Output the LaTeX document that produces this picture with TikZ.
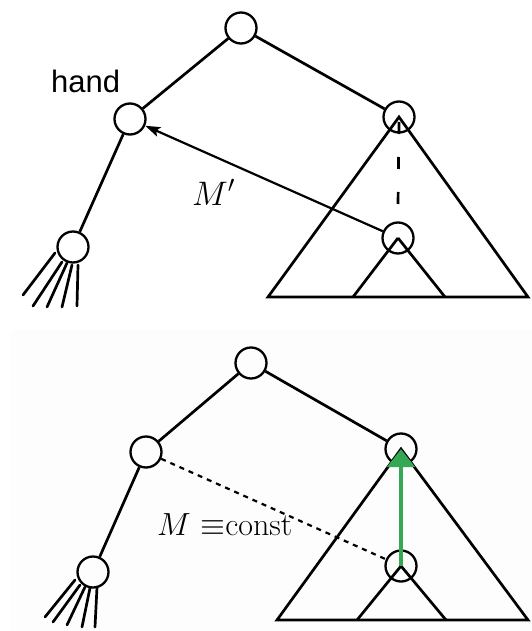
\RequirePackage{fix-cm}
\documentclass[tikz,border=0pt]{standalone}
\usepackage{fontspec}
\newfontfamily\handfont{Liberation Sans}
\usetikzlibrary{arrows.meta,calc}
\definecolor{arrowgreen}{RGB}{52,168,83}
\definecolor{panelbg}{RGB}{253,253,253}
\tikzset{
  vtx/.style={circle,draw,line width=2.3pt,minimum size=31pt,inner sep=0pt},
  edge/.style={line width=2.7pt},
  tri/.style={line width=2.7pt,line join=miter},
  fan/.style={line width=2.7pt,line cap=round},
  movearrow/.style={line width=2.2pt,-{Stealth[length=15pt,width=10pt,inset=3pt]}},
  greenarrow/.style={draw=arrowgreen,line width=4.5pt,-{Triangle[length=18pt,width=27pt]},arrowgreen},
  dotline/.style={line width=2.2pt,dash pattern=on 5pt off 5pt},
  txt/.style={inner sep=0pt,anchor=base west}
}
\begin{document}
\begin{tikzpicture}[x=1pt,y=-1pt]
\useasboundingbox (0,0) rectangle (532,631);
\fill[panelbg] (11,330) rectangle (532,631);

% ---------- top panel ----------
\node[vtx] (t0) at (241,28) {};
\node[vtx] (thand) at (130,119) {};
\node[vtx] (tr) at (399,117) {};
\node[vtx] (tbl) at (73,247) {};
\node[vtx] (tlr) at (398,238) {};
\coordinate (tA) at (268,297);
\coordinate (tB) at (528,297);
\coordinate (tC) at (353,297);
\coordinate (tD) at (445,297);

\draw[edge] (t0) -- (thand);
\draw[edge] (t0) -- (tr);
\draw[edge] (thand) -- (tbl);
\draw[tri] (tr.center) -- (tA) -- (tB) -- cycle;
\draw[tri] (tlr.center) -- (tC);
\draw[tri] (tlr.center) -- (tD);
\draw[line width=2.7pt,dash pattern=on 12pt off 23pt] ($(tr.center)+(0,5)$) -- ($(tlr.center)+(0,-33)$);
\foreach \sx/\sy/\ex/\ey in {-18/6/-50/48, -11/15/-40/59, -6/16/-26/60, -1/18/-11/60, 5/18/4/59}
  \draw[fan] ($(tbl.center)+(\sx,\sy)$) -- ($(tbl.center)+(\ex,\ey)$);
\draw[movearrow] (tlr) -- (thand);
\node[txt] (handlbl) at (51,93) {\fontsize{31}{36}\selectfont\handfont hand};
\node[txt] (mlbl) at (192,205) {\fontsize{34}{40}\selectfont $M'$};

% ---------- bottom panel ----------
\node[vtx] (b0) at (251,363) {};
\node[vtx] (bl) at (146,452) {};
\node[vtx] (br) at (401,449) {};
\node[vtx] (bbl) at (93,572) {};
\node[vtx] (blr) at (401,566) {};
\coordinate (bA) at (277,620);
\coordinate (bB) at (528,620);
\coordinate (bC) at (357,620);
\coordinate (bD) at (446,620);

\draw[edge] (b0) -- (bl);
\draw[edge] (b0) -- (br);
\draw[edge] (bl) -- (bbl);
\draw[tri] (br.center) -- (bA) -- (bB) -- cycle;
\draw[tri] (blr.center) -- (bC);
\draw[tri] (blr.center) -- (bD);
\foreach \sx/\sy/\ex/\ey in {-18/8/-48/45, -13/13/-40/50, -8/15/-26/53, -3/16/-11/55, 4/15/2/55}
  \draw[fan] ($(bbl.center)+(\sx,\sy)$) -- ($(bbl.center)+(\ex,\ey)$);
\draw[dotline] (bl) -- (blr);
\node[txt] (clbl) at (157,535) {\fontsize{32}{38}\selectfont $M$ $\equiv$const};
\draw[greenarrow] (blr.center) -- (br.center);
\end{tikzpicture}
\end{document}
